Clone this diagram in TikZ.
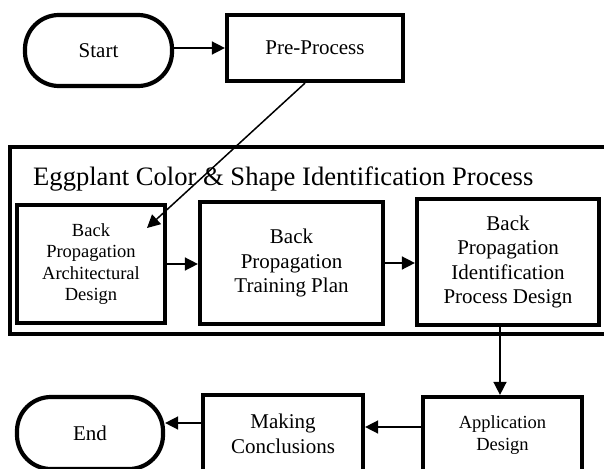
\documentclass[tikz,border=0pt]{standalone}
\usepackage{fontspec}
\setmainfont{Liberation Serif}
\usetikzlibrary{arrows.meta}
\tikzset{
  boxst/.style={draw, line width=4.2pt, inner sep=0pt, align=center, font=\fontsize{21}{24.5}\selectfont},
  smallbox/.style={boxst, font=\fontsize{18.5}{21.5}\selectfont},
  termst/.style={boxst, rounded corners=34pt},
  conn/.style={line width=1.5pt, -{Triangle[length=13pt,width=13pt]}},
}
\begin{document}
\begin{tikzpicture}[x=1pt,y=-1pt]
\useasboundingbox (0,0) rectangle (604,468);
\clip (0,0) rectangle (604,468);
% container
\draw[line width=4.2pt] (10,147) rectangle (616,334);
\node[anchor=base west, inner sep=0pt, font=\fontsize{26.6}{30}\selectfont] (title) at (33,185) {Eggplant Color \& Shape Identification Process};
% nodes
\node[termst, minimum width=147pt, minimum height=71pt] (start) at (98.5,50.5) {Start};
\node[boxst, minimum width=176pt, minimum height=66pt] (pre) at (315,48) {Pre-Process};
\node[smallbox, minimum width=148pt, minimum height=118pt] (arch) at (91,264) {Back\\Propagation\\Architectural\\Design};
\node[boxst, minimum width=183pt, minimum height=122pt] (train) at (291.5,263) {Back\\Propagation\\Training Plan};
\node[boxst, minimum width=182pt, minimum height=126pt] (id) at (508,262) {Back\\Propagation\\Identification\\Process Design};
\node[smallbox, minimum width=159pt, minimum height=76pt] (app) at (502.5,435) {Application\\Design};
\node[boxst, minimum width=160pt, minimum height=78pt] (making) at (283,434) {Making\\Conclusions};
\node[termst, minimum width=146pt, minimum height=72pt] (end) at (90,433) {End};
\coordinate (archtip) at (147,228);
% connectors
\draw[conn] (start.east |- pre.west) -- (pre.west);
\draw[conn] ([xshift=-10pt]pre.south) -- (archtip);
\draw[conn] (arch.east) -- (arch.east -| train.west);
\draw[conn] (train.east) -- (train.east -| id.west);
\draw[conn] ([xshift=-2.5pt]app.north |- id.south) -- ([xshift=-2.5pt]app.north);
\draw[conn] ([yshift=8pt]app.west) -- ([yshift=8pt]app.west -| making.east);
\draw[conn] ([yshift=11pt]making.west) -- ([yshift=11pt]making.west -| end.east);
\end{tikzpicture}
\end{document}
